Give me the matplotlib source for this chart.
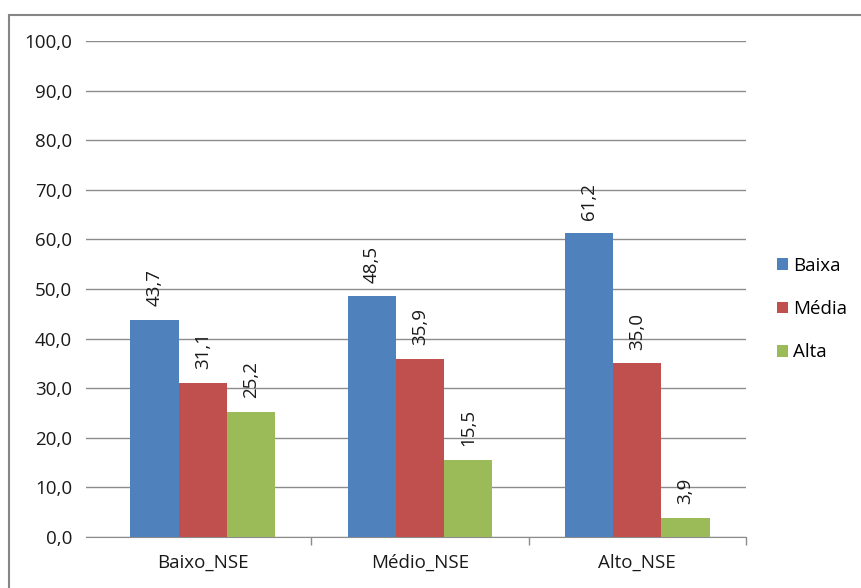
import matplotlib.pyplot as plt
import matplotlib.patches as mpatches
import numpy as np

plt.rcParams['font.family'] = ['Open Sans', 'DejaVu Sans']

categories = ['Baixo_NSE', 'Médio_NSE', 'Alto_NSE']
series_names = ['Baixa', 'Média', 'Alta']
baixa = [43.7, 48.5, 61.2]
media = [31.1, 35.9, 35.0]
alta = [25.2, 15.5, 3.9]
colors = ['#4f81bd', '#c0504d', '#9bbb59']
yticks = np.arange(0, 101, 10)

FS = 13.5

fig = plt.figure(figsize=(8.62, 5.88), dpi=100)
ax = fig.add_axes([86 / 862, 51 / 588, 660 / 862, 496 / 588])

# moldura externa
frame = mpatches.Rectangle((9 / 862, -0.2), 1.2, 0.2 + 573 / 588,
                           transform=fig.transFigure, fill=False,
                           edgecolor='#868686', linewidth=1.5)
fig.patches.append(frame)

x = np.arange(len(categories))
w = 1 / 4.5
for i, (name, vals, c) in enumerate(zip(series_names, [baixa, media, alta], colors)):
    pos = x + (i - 1) * w
    ax.bar(pos, vals, w, color=c, label=name, zorder=3)
    for p, v in zip(pos, vals):
        ax.annotate(f'{v:.1f}'.replace('.', ','), xy=(p, v), xytext=(0, 10),
                    textcoords='offset points', rotation=90,
                    ha='center', va='bottom', fontsize=FS, color='#1a1a1a')

ax.set_xlim(-0.537, 2.5)
ax.set_ylim(0, 100)
ax.set_yticks(yticks)
ax.set_yticklabels([f'{t:.1f}'.replace('.', ',') for t in yticks], fontsize=FS)
ax.yaxis.grid(True, color='#8c8c8c', linewidth=1, zorder=0)
ax.tick_params(axis='y', length=0, pad=10, colors='#1a1a1a')

ax.set_xticks(x)
ax.set_xticklabels(categories, fontsize=FS)
ax.set_xticks([0.5, 1.5, 2.5], minor=True)
ax.tick_params(axis='x', which='major', length=0, pad=12, colors='#1a1a1a')
ax.tick_params(axis='x', which='minor', length=6, color='#8c8c8c', width=1)

for s in ['top', 'right', 'left']:
    ax.spines[s].set_visible(False)
ax.spines['bottom'].set_color('#8c8c8c')

ax.legend(loc='upper left', bbox_to_anchor=(1.035, 0.58), frameon=False,
          fontsize=FS, handlelength=0.6, handleheight=0.6,
          handletextpad=0.3, labelspacing=1.35, borderaxespad=0)

plt.savefig('out.png', dpi=100)
